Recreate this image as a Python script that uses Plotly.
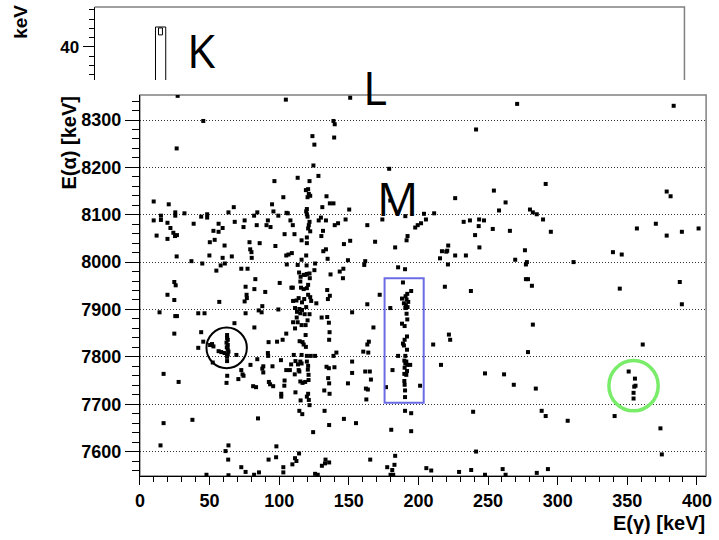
import plotly.graph_objects as go

# ---------------- data (E_gamma [keV], E_alpha [keV]) ----------------
# low-energy gamma region
left_eg = [27.1,104.8,45.5,26.4,96.6,103.0,9.9,20.7,94.9,67.4,95.9,15.1,25.4,25.4,32.0,44.0,48.3,48.3,63.6,84.3,
           82.0,105.3,99.4,9.9,15.1,19.8,38.6,56.5,68.1,75.2,74.4,83.9,91.9,90.9,93.8,21.9,59.4,52.8,56.5,12.0,
           24.0,25.2,26.6,19.8,103.9,50.2,53.7,78.7,86.0,60.8,97.3,79.2,80.1,49.9,66.0,26.4,59.4,80.3,105.1,37.0,
           44.8,61.0,58.0,105.5,54.9,72.8,77.3,82.9,24.7,25.7,75.9,82.2,19.8,100.4,90.0,76.6,76.8,75.2,24.7,57.0,
           87.9,85.3,87.4,99.4,14.1,41.9,46.4,75.9,25.4,26.6,67.9,82.2,24.7,44.0,105.1,102.5,98.5,92.4,45.5,41.9,
           91.9,92.1,101.3,84.3,52.3,79.4,88.6,95.2,87.9,105.1,88.6,72.8,73.7,74.4,17.0,62.7,70.7,27.8,62.2,92.6,
           93.5,95.7,103.9,103.7,81.3,83.4,101.5,101.5,37.7,84.8,17.0,14.8,63.6,98.0,61.5,63.4,97.8,92.4,72.8,75.9,
           103.0,103.0,47.8,63.6,82.0,85.5]
left_ea = [8351,8343,8298,8240,8171,8137,8128,8122,8122,8116,8107,8098,8105,8098,8103,8096,8101,8094,8105,8105,
           8098,8104,8098,8088,8089,8083,8081,8081,8085,8088,8074,8078,8088,8078,8074,8072,8072,8066,8064,8056,
           8062,8055,8057,8049,8059,8042,8047,8042,8040,8035,8034,8027,8021,8014,8012,8012,8009,8009,8014,8002,
           7997,7997,7993,7995,7982,7986,7986,7964,7958,7951,7948,7943,7931,7956,7937,7931,7924,7917,7920,7916,
           7907,7898,7894,7900,7894,7892,7892,7892,7886,7886,7871,7862,7849,7852,7849,7836,7832,7831,7832,7819,
           7808,7802,7793,7795,7788,7783,7780,7780,7775,7772,7767,7772,7763,7760,7764,7760,7753,7747,7745,7747,
           7742,7738,7750,7739,7738,7736,7722,7716,7667,7670,7660,7613,7613,7611,7601,7583,7588,7583,7567,7557,
           7567,7556,7551,7550,7551,7556]

# cluster inside the black circle
c61_eg = [62.6,62.6,63.1,62.2,63.1,62.4,63.1,63.6,63.1,62.6,62.6,51.8,52.8,50.4,56.5,58.4,69.3,60.8]
c61_ea = [7846,7840,7836,7830,7825,7820,7816,7811,7805,7800,7791,7827,7822,7825,7812,7810,7804,7808]

# central band (~100-205 keV)
mid_eg = [151.0,139.0,139.9,123.9,139.5,125.3,124.6,179.0,113.3,128.2,121.8,119.2,120.8,121.3,122.3,120.4,134.0,
          136.4,139.0,131.0,150.3,179.8,119.9,119.4,119.9,120.4,106.2,130.0,128.4,133.6,147.7,174.1,190.6,204.0,
          205.4,201.9,199.5,197.7,108.1,109.8,121.8,121.3,120.8,122.3,163.3,139.9,142.3,131.5,111.0,130.3,119.9,
          116.1,151.0,146.5,168.9,191.5,192.2,119.9,183.3,133.6,131.7,109.1,106.7,119.4,116.1,134.8,149.4,161.8,
          161.1,113.3,119.7,125.8,125.3,146.1,143.5,185.4,190.4,114.3,121.8,119.9,118.9,117.6,115.4,122.0,136.9,
          145.8,115.2,120.8,115.7,109.8,108.8,119.9,117.6,134.5,172.2,136.4,135.0,120.8,122.3,114.0,112.4,110.0,
          118.0,116.4,123.0,126.7,163.3,111.4,114.5,116.4,119.4,112.8,115.2,118.3,121.8,152.4,179.8,130.5,134.5,
          112.6,120.4,110.0,113.3,116.1,119.0,135.7,111.4,167.7,136.2,119.0,135.9,114.7,116.8,117.6,164.4,163.3,
          119.2,160.4,164.0,141.1,139.0,110.5,116.1,119.9,122.7,125.8,111.7,115.2,119.9,152.4,185.4,108.6,113.5,
          116.1,120.8,134.0,135.7,139.7,161.8,165.1,107.7,111.2,114.0,114.5,120.6,121.1,121.1,152.4,181.4,165.9,
          115.2,116.8,118.7,135.2,135.9,149.4,162.3,163.7,176.7,132.4,136.2,111.7,120.8,119.9,121.3,121.8,115.4,
          162.6,201.2,132.6,114.5,116.6,146.5,155.2,135.9,190.4,194.8,180.5,194.8,124.4,114.3,111.4,112.4,109.5,
          133.3,135.9,132.9,130.7,125.8,127.7,165.4,183.3,182.8,181.2,177.6,180.0,181.9,205.7]
mid_ea = [8347,8298,8291,8266,8263,8248,8204,8197,8178,8182,8171,8152,8154,8144,8140,8137,8139,
          8124,8124,8116,8111,8130,8112,8107,8101,8096,8103,8094,8088,8088,8090,8090,8097,8102,
          8090,8082,8078,8073,8088,8078,8085,8078,8071,8065,8078,8078,8082,8066,8059,8055,8052,
          8046,8045,8038,8043,8046,8055,8040,8031,8027,8023,8019,8016,8014,8005,8007,8004,8002,
          7994,7994,7993,7997,7983,7986,7980,7989,7985,7978,7976,7975,7973,7973,7969,7966,7974,
          7966,7959,7952,7946,7946,7946,7945,7943,7941,7931,7929,7922,7931,7926,7924,7919,7918,
          7922,7915,7918,7913,7911,7903,7901,7899,7905,7895,7892,7890,7890,7894,7903,7883,7884,
          7883,7877,7873,7873,7867,7867,7872,7860,7862,7852,7846,7836,7833,7831,7826,7832,7826,
          7821,7811,7809,7809,7802,7804,7804,7802,7802,7802,7791,7790,7790,7790,7802,7784,7784,
          7786,7781,7779,7776,7778,7769,7769,7772,7763,7772,7769,7773,7762,7751,7766,7772,7752,
          7748,7745,7747,7755,7744,7744,7733,7731,7736,7729,7722,7725,7722,7716,7709,7698,7708,
          7710,7739,7686,7686,7679,7669,7660,7656,7686,7681,7646,7643,7641,7596,7586,7580,7573,
          7583,7577,7575,7570,7553,7551,7583,7591,7572,7561,7567,7551,7551,7565]

# vertical line of events inside the blue box (~190 keV)
b190_eg = [188.9,194.8,192.0,190.8,188.2,191.5,192.7,189.6,191.0,192.2,190.6,191.5,192.0,188.2,190.1,191.8,190.1,
           188.9,189.6,191.8,190.6,189.9,191.3,190.6,192.0,194.1,190.1,191.8,189.9,191.3,189.9,190.1,190.4,190.4]
b190_ea = [7957,7939,7933,7928,7923,7921,7916,7913,7909,7905,7903,7891,7879,7870,7865,7843,7836,
           7828,7824,7815,7802,7792,7790,7786,7783,7783,7777,7770,7764,7762,7749,7741,7729,7715]

# high-energy gamma region
right_eg = [270.9,383.3,241.4,291.4,254.2,378.3,381.1,226.4,262.6,257.9,280.1,282.2,285.0,211.3,232.5,237.0,243.6,
            247.1,243.3,289.5,253.4,265.7,295.1,356.9,370.5,378.3,389.2,401.2,240.7,243.8,221.4,216.9,220.0,220.7,
            226.4,234.1,276.5,215.5,221.2,269.5,277.9,277.2,311.4,339.7,346.0,277.2,278.7,281.5,219.0,237.7,344.6,
            387.7,389.2,282.2,221.9,222.8,210.6,361.1,278.7,216.2,247.8,261.5,268.5,284.3,239.3,288.5,291.4,307.2,
            340.9,373.8,241.4,374.8,209.2,229.2,237.9,260.5,262.6,247.8,285.0,293.0]
right_ea = [8334,8330,8280,8165,8151,8149,8139,8135,8126,8109,8111,8105,8101,8103,8085,8088,8090,
            8088,8076,8090,8070,8066,8064,8071,8081,8056,8064,8071,8057,8031,8035,8023,8022,8024,
            8014,8014,8025,8008,7995,8005,8000,7995,8000,8021,8016,7964,7964,7950,7948,7939,7944,
            7958,7911,7868,7847,7836,7826,7826,7810,7783,7765,7763,7741,7733,7684,7686,7675,7665,
            7675,7649,7600,7594,7560,7557,7561,7563,7551,7551,7555,7563]

# events inside the green circle (~355 keV)
c355_eg = [351.0,355.5,355.9,355.0,354.5,354.5]
c355_ea = [7769,7754,7739,7737,7724,7712]

# top (cropped) panel histogram
top_bin_center = [47.0, 46.9]
top_bin_width = [7.3, 2.8]
top_bin_base = [0, 42.6]
top_bin_height = [44.3, 1.5]

# highlighted regions
circle_61 = dict(x0=47.8, x1=76.8, y0=7776, y1=7862)
box_190 = dict(x0=175.7, x1=203.8, y0=7703, y1=7966)
circle_355 = dict(x0=336.8, x1=372.2, y0=7686, y1=7792)

x_ticks = [0, 50, 100, 150, 200, 250, 300, 350, 400]
y_ticks = [7600, 7700, 7800, 7900, 8000, 8100, 8200, 8300]

# ---------------- figure ----------------
eg = left_eg + c61_eg + mid_eg + b190_eg + right_eg + c355_eg
ea = left_ea + c61_ea + mid_ea + b190_ea + right_ea + c355_ea

W, H = 719, 540
def px(x): return x / W
def py(y): return 1 - y / H

FAM = "Liberation Sans, Arial, sans-serif"
bold = dict(family=FAM, size=18, color="black", weight="bold")

fig = go.Figure()
fig.add_trace(go.Scatter(x=eg, y=ea, mode="markers",
                         marker=dict(symbol="square", size=4, color="black", line=dict(width=0)),
                         xaxis="x", yaxis="y", showlegend=False, hoverinfo="skip"))
fig.add_trace(go.Bar(x=top_bin_center, y=top_bin_height, base=top_bin_base, width=top_bin_width,
                     marker=dict(color="white", line=dict(color="black", width=1)),
                     xaxis="x2", yaxis="y2", showlegend=False, hoverinfo="skip"))

main_x = [px(137), px(712)]
main_y = [py(476), py(95)]
top_x = [px(91), px(690)]
top_y = [py(80), py(7)]

fig.update_layout(
    width=W, height=H, margin=dict(l=0, r=0, t=0, b=0),
    paper_bgcolor="white", plot_bgcolor="white", barmode="overlay",
    xaxis=dict(domain=main_x, range=[0, 406.6], anchor="y", tickvals=x_ticks,
               ticks="outside", ticklen=8, tickwidth=1, tickcolor="black",
               minor=dict(dtick=10, tick0=0, ticks="outside", ticklen=5, tickcolor="black"),
               showline=True, linecolor="black", linewidth=1, showgrid=False, zeroline=False,
               tickfont=bold),
    yaxis=dict(domain=main_y, range=[7548.4, 8352.8], anchor="x", tickvals=y_ticks,
               ticks="outside", ticklen=14, tickwidth=1, tickcolor="black",
               minor=dict(dtick=20, tick0=7600, ticks="outside", ticklen=7, tickcolor="black"),
               showline=True, linecolor="black", linewidth=1,
               showgrid=True, gridcolor="#333", gridwidth=1, griddash="1px,2px", zeroline=False,
               tickfont=bold),
    xaxis2=dict(domain=top_x, range=[0, 420], anchor="y2", visible=False),
    yaxis2=dict(domain=top_y, range=[32.9, 48.6], anchor="x2", tickvals=[40],
                ticks="outside", ticklen=11, tickcolor="black",
                minor=dict(dtick=2, tick0=0, ticks="outside", ticklen=5, tickcolor="black"),
                showline=True, linecolor="black", linewidth=1, showgrid=False, zeroline=False,
                tickfont=dict(family=FAM, size=17, color="black", weight="bold")),
)

shapes = [
    dict(type="rect", xref="paper", yref="paper", x0=main_x[0], x1=main_x[1], y0=main_y[0], y1=main_y[1],
         line=dict(color="#808080", width=1.5), layer="below"),
    dict(type="path", xref="paper", yref="paper",
         path=f"M {top_x[0]},{top_y[1]} L {top_x[1]},{top_y[1]} L {top_x[1]},{top_y[0]}",
         line=dict(color="#808080", width=1.5)),
    dict(type="circle", xref="x", yref="y", **circle_61, line=dict(color="black", width=2)),
    dict(type="rect", xref="x", yref="y", **box_190, line=dict(color="#6b6be6", width=2)),
    dict(type="circle", xref="x", yref="y", **circle_355, line=dict(color="#79ec6a", width=3.5)),
]
fig.update_layout(shapes=shapes)

big = dict(family="Open Sans, sans-serif", size=46, color="black")
ann = [
    dict(text="K", x=px(200), y=py(50), xref="paper", yref="paper", showarrow=False, font=big,
         xanchor="center", yanchor="middle"),
    dict(text="L", x=px(376), y=py(87), xref="paper", yref="paper", showarrow=False, font=big,
         xanchor="center", yanchor="middle"),
    dict(text="M", x=px(399), y=py(198), xref="paper", yref="paper", showarrow=False, font=big,
         xanchor="center", yanchor="middle"),
    dict(text="E(α) [keV]", x=px(64), y=py(95), xref="paper", yref="paper", showarrow=False,
         textangle=-90, xanchor="center", yanchor="top",
         font=dict(family=FAM, size=20, color="black", weight="bold")),
    dict(text="E(γ) [keV]", x=px(713), y=py(523), xref="paper", yref="paper", showarrow=False,
         xanchor="right", yanchor="middle",
         font=dict(family=FAM, size=20, color="black", weight="bold")),
    dict(text="keV", x=px(15), y=py(22), xref="paper", yref="paper", showarrow=False,
         textangle=-90, xanchor="center", yanchor="middle",
         font=dict(family=FAM, size=19, color="black", weight="bold")),
]
fig.update_layout(annotations=ann)

fig.write_html("out.html")
